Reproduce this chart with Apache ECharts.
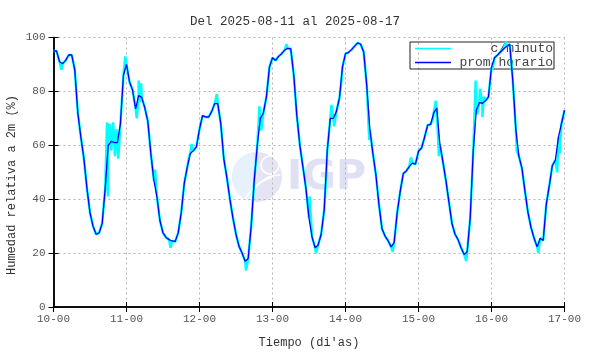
<!DOCTYPE html>
<html>
<head>
<meta charset="utf-8">
<script src="https://cdn.jsdelivr.net/npm/echarts@6/dist/echarts.min.js"></script>
<style>
  html, body { margin: 0; padding: 0; background: #fff; }
  #chart { width: 590px; height: 354px; }
</style>
</head>
<body>
<div id="chart"></div>
<script>
// humedad relativa, promedio horario (una por hora desde 2025-08-10 00h)
var humHorario = [
    95, 95, 91, 90.3, 91.5, 93.5, 93.5, 88, 72, 63, 55, 44, 35, 30, 27, 27.5, 31, 44, 60, 61.5, 61, 61, 68, 86,
    90, 83.5, 80.5, 73.5, 78.5, 77.8, 74, 69, 57, 47, 41, 32, 27.5, 25.8, 25, 24.5, 24.3, 27.5, 35, 46, 52, 57, 58, 59.5,
    66, 71, 70.5, 70.5, 72.5, 75.5, 75.5, 68, 55, 48, 40, 33, 27, 22.5, 20, 17, 18, 30, 47, 60, 70, 72, 78, 89,
    92.5, 91.5, 93, 94, 95.3, 96, 95.8, 86, 71, 60, 52, 44, 33, 26, 22, 23, 27, 36, 58, 70, 70, 72.5, 77.5, 89,
    94, 94.5, 95.5, 96.8, 98, 97.5, 94.5, 82, 66, 57, 49, 38, 29, 26.3, 24.6, 22.3, 24, 35, 43, 49.5, 50.5, 52.2, 53.4, 53,
    57.8, 59, 63, 67.5, 67.8, 72, 73.8, 60.7, 54, 47, 39, 31, 27, 25, 22, 19.5, 20.5, 33, 58, 73, 75.8, 75.6, 76.5, 78,
    89, 92.5, 93.5, 94.7, 95.8, 96.7, 97.5, 84, 66, 56, 51.5, 43, 35, 29.5, 25.5, 22.3, 25.5, 24.7, 38, 45, 52.5, 54.5, 63, 68,
    73
];

// picos de la serie por minuto [hora, valor]
var cyanPicos = [
    [2.6, 88], [17.6, 68.5], [17.9, 41], [18.4, 68], [19.0, 58], [19.6, 68.5], [20.2, 56], [20.7, 66], [21.3, 55], [23.6, 93],
    [27.4, 70], [28.0, 84], [28.4, 76], [28.8, 83], [33.4, 51], [38.5, 22],
    [44.6, 56], [45.4, 60.5], [53.7, 79], [63.3, 13.5], [67.7, 74.5], [68.3, 65.5],
    [76.6, 97.5], [84.2, 41], [86.3, 20], [89.8, 52], [91.4, 75], [92.3, 67],
    [94.5, 82], [103.8, 62], [111.5, 20.5], [117.5, 55.5], [124.8, 70], [125.7, 76.5],
    [126.7, 56], [135.7, 17], [138.8, 84], [139.3, 71.5], [140.2, 81], [141, 70.5], [141.5, 78],
    [144.3, 88], [148.9, 98.5], [152.3, 58], [159.4, 20], [165.6, 50], [166.4, 57]
];

var diasLabels = ['10-00', '11-00', '12-00', '13-00', '14-00', '15-00', '16-00', '17-00'];
var yTicks = [0, 20, 40, 60, 80, 100];

var MONO = '"Liberation Mono", "DejaVu Sans Mono", monospace';

function getHorario() {
    return humHorario.map(function (v, i) { return [i, v]; });
}

function getMinuto() {
    var pts = getHorario().concat(cyanPicos);
    pts.sort(function (a, b) { return a[0] - b[0]; });
    return pts;
}

var myChart = echarts.init(document.getElementById('chart'), null, { renderer: 'canvas' });

var gridLine = { show: true, lineStyle: { color: '#b4b4b4', type: [2, 3], width: 1 } };
var frame = { show: true, lineStyle: { color: '#000', width: 1.5 } };
var tick = { show: true, inside: true, length: 5, lineStyle: { color: '#000', width: 1 } };

var option = {
    animation: false,
    title: {
        text: 'Del 2025-08-11 al 2025-08-17',
        left: 'center',
        top: 10,
        textStyle: { fontFamily: MONO, fontSize: 12.5, fontWeight: 'normal', color: '#333' }
    },
    graphic: [
        // marca de agua IGP
        { type: 'circle', shape: { cx: 257, cy: 177, r: 25 }, style: { fill: '#e4e4f5' }, z: -10 },
        { type: 'sector', shape: { cx: 257, cy: 177, r: 25, r0: 0, startAngle: Math.PI * 0.55, endAngle: Math.PI * 1.45 }, style: { fill: '#e6f1fd' }, z: -9 },
        { type: 'arc', shape: { cx: 280, cy: 205, r: 30, startAngle: Math.PI * 1.05, endAngle: Math.PI * 1.5 }, style: { stroke: '#fff', lineWidth: 1.5, fill: null }, z: -8 },
        { type: 'arc', shape: { cx: 280, cy: 215, r: 38, startAngle: Math.PI * 1.05, endAngle: Math.PI * 1.45 }, style: { stroke: '#fff', lineWidth: 1.5, fill: null }, z: -8 },
        { type: 'arc', shape: { cx: 270, cy: 165, r: 9, startAngle: 0, endAngle: Math.PI * 2 }, style: { stroke: '#fff', lineWidth: 1.5, fill: null }, z: -8 },
        { type: 'text', left: 287, top: 158, style: { text: 'IGP', font: 'bold 41px "DejaVu Sans", sans-serif', fill: '#e0e0f4' }, z: -8 },
        {
            type: 'text', x: 12, y: 185, rotation: Math.PI / 2,
            style: { text: 'Humedad relativa a 2m (%)', font: '12px ' + MONO, fill: '#333', textAlign: 'center', textVerticalAlign: 'middle' }
        }
    ],
    legend: {
        orient: 'vertical',
        left: 410,
        top: 42,
        padding: [0, 1, 0, 5],
        itemGap: 1,
        itemWidth: 36,
        itemHeight: 1.5,
        borderColor: '#222',
        borderWidth: 1,
        z: 1,
        data: [
            { name: 'c/minuto', icon: 'rect' },
            { name: 'prom horario', icon: 'rect' }
        ],
        formatter: function (name) { return '{a|' + name + '}'; },
        textStyle: {
            rich: { a: { width: 97, align: 'right', fontFamily: MONO, fontSize: 13, color: '#444', lineHeight: 12 } }
        }
    },
    grid: { left: 53.5, right: 25.5, top: 37.5, bottom: 40.5, show: false },
    xAxis: [{
        type: 'value', min: 0, max: 168, interval: 24,
        name: "Tiempo (di'as)", nameLocation: 'middle', nameGap: 30,
        nameTextStyle: { fontFamily: MONO, fontSize: 12, color: '#333' },
        axisLine: frame, axisTick: tick, splitLine: gridLine,
        axisLabel: {
            fontFamily: MONO, fontSize: 11, color: '#555', margin: 7,
            formatter: function (v) { return diasLabels[Math.round(v / 24)]; }
        }
    }, {
        type: 'value', position: 'top', min: 0, max: 168, interval: 24,
        axisLine: frame, axisTick: tick, splitLine: { show: false }, axisLabel: { show: false }
    }],
    yAxis: [{
        type: 'value', min: yTicks[0], max: yTicks[yTicks.length - 1], interval: 20,
        axisLine: frame, axisTick: tick, splitLine: gridLine,
        axisLabel: { fontFamily: MONO, fontSize: 11, color: '#555', margin: 8 }
    }, {
        type: 'value', position: 'right', min: 0, max: 100, interval: 20,
        axisLine: frame, axisTick: tick, splitLine: { show: false }, axisLabel: { show: false }
    }],
    series: [{
        name: 'c/minuto',
        type: 'line',
        data: getMinuto(),
        showSymbol: false,
        color: '#00ffff',
        lineStyle: { width: 2.5, color: '#00ffff' },
        z: 2
    }, {
        name: 'prom horario',
        type: 'line',
        data: getHorario(),
        showSymbol: false,
        color: '#0000ff',
        lineStyle: { width: 1.3, color: '#0000ff' },
        z: 3
    }]
};

myChart.setOption(option);
</script>
</body>
</html>
